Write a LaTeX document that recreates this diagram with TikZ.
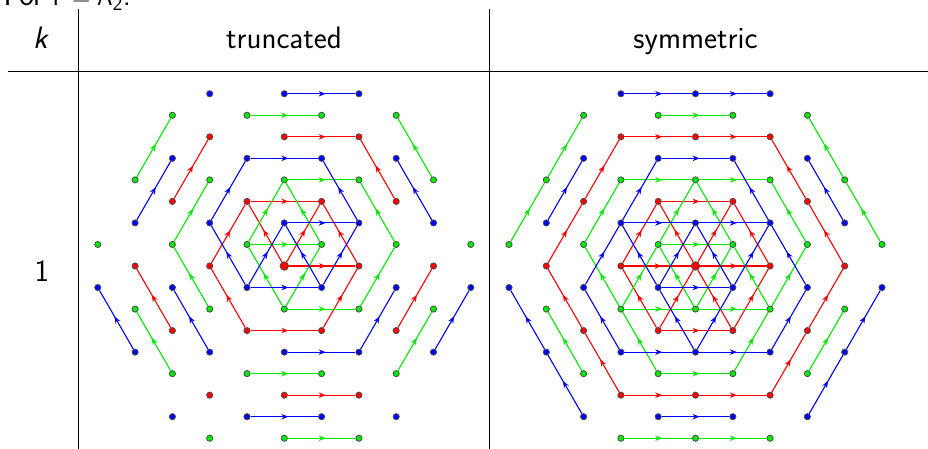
\documentclass[tikz,border=0pt]{standalone}
\usetikzlibrary{arrows.meta, decorations.markings}

\definecolor{col0}{RGB}{255,0,0}
\definecolor{col1}{RGB}{0,235,0}
\definecolor{col2}{RGB}{0,0,255}

\tikzset{
  wdot/.style={circle, draw=black!70, line width=0.8pt, inner sep=0pt, minimum size=6pt},
  flow/.style={line width=1.1pt, postaction={decorate},
    decoration={markings, mark=at position 0.56 with {\arrow{Stealth[length=7pt,width=5.5pt]}}}},
  hdr/.style={font=\fontsize{31}{37}\selectfont\sffamily},
}

% weights of the lattice: row j holds i = -m, -m+2, ..., m
\newcommand{\weights}[2]{%
  \foreach \j/\m in {8/2,7/3,6/2,5/3,4/4,3/3,2/4,1/5,0/4,-1/5,-2/4,-3/3,-4/4,-5/3,-6/2,-7/3,-8/2}{
    \pgfmathtruncatemacro\ilo{-\m}
    \pgfmathtruncatemacro\inx{-\m+2}
    \pgfmathtruncatemacro\cls{mod(\j+9,3)}
    \foreach \i in {\ilo,\inx,...,\m}{
      \pgfmathsetmacro\sz{(\i==0 && \j==0) ? 8.5 : 6.2}
      \node[wdot, fill=col\cls, minimum size=\sz pt] (#1\i_\j) at ({#2+37.3*(\i)}, {183+21.53*(\j)}) {};
    }
  }}

% arrows between weights: i/j of tail, i/j of head
\newcommand{\flows}[3]{%
  \foreach \ia/\ja/\ib/\jb in {#3}{\draw[flow, #2] (#1\ia_\ja) -- (#1\ib_\jb);}}

\begin{document}
\begin{tikzpicture}[x=1pt, y=1pt]
\useasboundingbox (0,0) rectangle (928,449);

% table
\draw[line width=1.2pt] (78.5,439.5) -- (78.5,0);
\draw[line width=1.2pt] (489.5,439.5) -- (489.5,0);
\draw[line width=1.2pt] (8,377.5) -- (928,377.5);

\node[hdr, anchor=base west] (title) at (0,443.5) {For $\mathsf{\Gamma} = \mathsf{A}_{\mathsf{2}}$.};
\node[hdr, anchor=base] (khead) at (41,400) {\textit{k}};
\node[hdr, anchor=base] (trunc) at (284,400) {truncated};
\node[hdr, anchor=base] (symm) at (695.5,400) {symmetric};
\node[hdr, anchor=base] (kval) at (42,167) {1};

% truncated
\weights{L}{284.3}
\flows{L}{col0}{-1/3/1/3, -2/0/-1/3, 0/0/-1/3, 0/0/1/3, 2/0/1/3, 0/0/2/0, -1/-3/-2/0, -1/-3/1/-3, 1/-3/2/0,
  -3/3/-2/6, 0/6/2/6, 3/3/2/6, -3/-3/-4/0, 3/-3/4/0, 0/-6/2/-6}
\flows{L}{col1}{0/4/2/4, -1/1/0/4, 1/1/0/4, -1/1/1/1, 0/-2/-1/1, 0/-2/1/1, 0/-2/2/-2, 3/1/2/4, 2/-2/3/1,
  -3/1/-2/4, -4/4/-3/7, -1/7/1/7, 4/4/3/7, -2/-2/-3/1, -3/-5/-4/-2, -1/-5/1/-5, 3/-5/4/-2, 0/-8/2/-8}
\flows{L}{col2}{-1/5/1/5, -2/2/-1/5, 2/2/1/5, -1/-1/-2/2, -1/-1/1/-1, 1/-1/2/2, 0/2/2/2, -1/-1/0/2, 1/-1/0/2,
  0/-4/2/-4, 2/-4/3/-1, -2/-4/-3/-1, -4/2/-3/5, 4/2/3/5, 0/8/2/8, -4/-4/-5/-1, 4/-4/5/-1, -1/-7/1/-7}

% symmetric
\weights{R}{695.5}
\flows{R}{col0}{-2/6/0/6, 0/6/2/6, 3/3/2/6, 4/0/3/3, 3/-3/4/0, 2/-6/3/-3, 0/-6/2/-6, -2/-6/0/-6,
  -2/-6/-3/-3, -3/-3/-4/0, -4/0/-3/3, -3/3/-2/6, -1/3/1/3, -2/0/-1/3, 2/0/1/3, -1/-3/-2/0, -1/-3/1/-3,
  1/-3/2/0, -2/0/0/0, 0/0/2/0, 0/0/-1/3, 0/0/1/3, -1/-3/0/0, 1/-3/0/0}
\flows{R}{col1}{-1/1/1/1, 0/-2/-1/1, 0/-2/1/1, -1/1/0/4, 1/1/0/4, -2/-2/-1/1, 2/-2/1/1, -2/-2/0/-2,
  0/-2/2/-2, -2/4/0/4, 0/4/2/4, 3/1/2/4, 2/-2/3/1, 1/-5/2/-2, -1/-5/1/-5, -1/-5/-2/-2, -2/-2/-3/1,
  -3/1/-2/4, -5/1/-4/4, -4/4/-3/7, 4/4/3/7, 5/1/4/4, -2/-8/0/-8, 0/-8/2/-8, -1/7/1/7, -3/-5/-4/-2, 3/-5/4/-2}
\flows{R}{col2}{-1/-1/1/-1, 1/-1/0/2, -1/-1/0/2, 0/-4/1/-1, 0/-4/-1/-1, 1/-1/2/2, -1/-1/-2/2, 0/2/2/2,
  -2/2/0/2, 0/-4/2/-4, -2/-4/0/-4, -2/-4/-3/-1, -3/-1/-2/2, -2/2/-1/5, -1/5/1/5, 2/2/1/5, 3/-1/2/2,
  2/-4/3/-1, 4/-4/5/-1, 3/-7/4/-4, -3/-7/-4/-4, -4/-4/-5/-1, 0/8/2/8, -2/8/0/8, -1/-7/1/-7, 4/2/3/5, -4/2/-3/5}
\end{tikzpicture}
\end{document}
